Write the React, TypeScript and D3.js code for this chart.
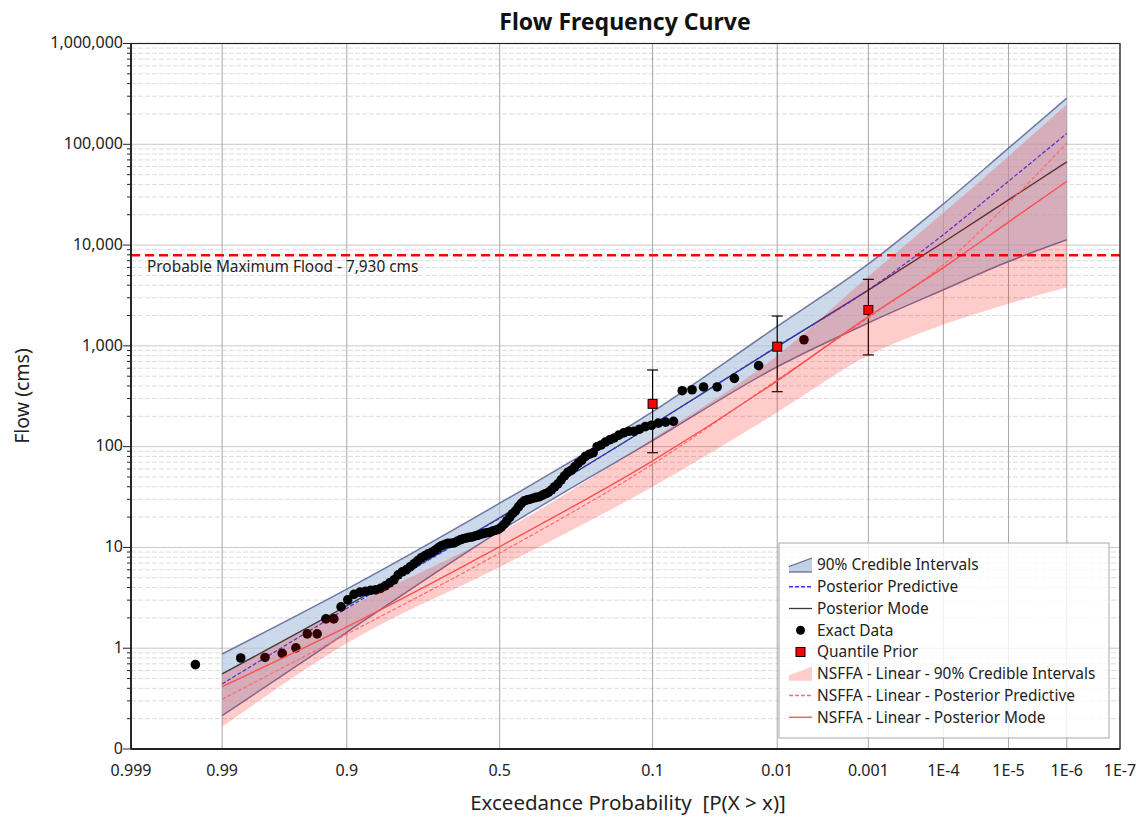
import { useEffect, useRef } from "react";
import * as d3 from "d3";

const WIDTH = 1136;
const HEIGHT = 820;
const PLOT = { left: 131, right: 1120, top: 43.5, bottom: 749 };
const FONT = "'Segoe UI', 'Noto Sans', sans-serif";

const X_TICKS = [0.999, 0.99, 0.9, 0.5, 0.1, 0.01, 0.001, 1e-4, 1e-5, 1e-6, 1e-7];
const X_TICK_LABELS = ["0.999", "0.99", "0.9", "0.5", "0.1", "0.01", "0.001", "1E-4", "1E-5", "1E-6", "1E-7"];
const Y_TICKS = [0.1, 1, 10, 100, 1000, 10000, 100000, 1000000];

// curve probabilities (exceedance)
const PROBS = [0.99, 0.9, 0.5, 0.1, 0.01, 0.001, 1e-4, 1e-5, 1e-6];
const CI_LOWER = [0.214, 1.44, 14.5, 114.5, 620, 1690, 3600, 6860, 11300];
const CI_UPPER = [0.877, 3.86, 27.5, 222, 1560, 6500, 25600, 91600, 287000];
const POST_PRED = [0.442, 2.49, 19.5, 165, 990, 3600, 12700, 43000, 128000];
const POST_MODE = [0.556, 2.63, 19.7, 165, 982, 3570, 10660, 28100, 67000];
const NS_LOWER = [0.166, 1.12, 6.4, 40, 219, 800, 1625, 2620, 3790];
const NS_UPPER = [0.55, 2.5, 14, 120, 800, 4900, 20900, 76200, 248000];
const NS_PRED = [0.312, 1.38, 8.8, 67, 460, 1900, 6400, 26000, 103000];
const NS_MODE = [0.416, 1.63, 10.2, 72.4, 450, 1950, 5980, 16900, 43000];

// observed annual peaks, ascending
const EXACT_DATA = [
  0.687, 0.8, 0.81, 0.888, 1.007, 1.387, 1.387, 1.954, 1.954, 2.57,
  3.02, 3.42, 3.6, 3.66, 3.75, 3.79, 3.92, 4.15, 4.45, 4.77,
  5.35, 5.73, 6.0, 6.41, 6.87, 7.36, 7.88, 8.26, 8.64, 8.94,
  9.36, 9.91, 10.4, 10.7, 11.0, 11.0, 11.1, 11.5, 11.9, 12.2,
  12.4, 12.6, 12.7, 13.0, 13.2, 13.5, 13.8, 14.0, 14.1, 14.5,
  14.8, 15.1, 15.8, 16.9, 18.4, 19.9, 21.6, 23.1, 25.3, 27.4,
  29.0, 29.7, 30.1, 30.8, 31.4, 31.8, 32.9, 34.1, 35.2, 37.3,
  40.0, 42.8, 46.9, 51.4, 55.7, 58.3, 63.1, 68.4, 73.3, 80.3,
  84.1, 87.0, 99.8, 104, 111, 117, 122, 130, 137, 142,
  142, 149, 158, 163, 171, 175, 178, 359, 367, 391,
  391, 476, 636, 1150,
];

// quantile priors
const QP_PROBS = [0.1, 0.01, 0.001];
const QP_VALUES = [266, 982, 2270];
const QP_LOWER = [87, 351, 813];
const QP_UPPER = [576, 1977, 4570];

const PMF = 7930;

const LEGEND_LABELS = [
  "90% Credible Intervals",
  "Posterior Predictive",
  "Posterior Mode",
  "Exact Data",
  "Quantile Prior",
  "NSFFA - Linear - 90% Credible Intervals",
  "NSFFA - Linear - Posterior Predictive",
  "NSFFA - Linear - Posterior Mode",
];

const BAND_FILL = "rgb(176,196,222)";
const BAND_LINE = "#5a6494";
const PRED_BLUE = "#3333ff";
const MODE_DARK = "#3c3c3c";
const PINK_FILL = "rgba(255,0,0,0.2)";
const RED_DASH = "#ff6a6a";
const RED_LINE = "#ff4f4f";

// Acklam inverse normal
function invNorm(p: number) {
  const a = [-3.969683028665376e1, 2.209460984245205e2, -2.759285104469687e2, 1.38357751867269e2, -3.066479806614716e1, 2.506628277459239];
  const b = [-5.447609879822406e1, 1.615858368580409e2, -1.556989798598866e2, 6.680131188771972e1, -1.328068155288572e1];
  const c = [-7.784894002430293e-3, -3.223964580411365e-1, -2.400758277161838, -2.549732539343734, 4.374664141464968, 2.938163982698783];
  const d = [7.784695709041462e-3, 3.224671290700398e-1, 2.445134137142996, 3.754408661907416];
  const plow = 0.02425;
  if (p < plow) {
    const q = Math.sqrt(-2 * Math.log(p));
    return (((((c[0] * q + c[1]) * q + c[2]) * q + c[3]) * q + c[4]) * q + c[5]) / ((((d[0] * q + d[1]) * q + d[2]) * q + d[3]) * q + 1);
  }
  if (p <= 1 - plow) {
    const q = p - 0.5;
    const r = q * q;
    return ((((((a[0] * r + a[1]) * r + a[2]) * r + a[3]) * r + a[4]) * r + a[5]) * q) / (((((b[0] * r + b[1]) * r + b[2]) * r + b[3]) * r + b[4]) * r + 1);
  }
  const q = Math.sqrt(-2 * Math.log(1 - p));
  return -(((((c[0] * q + c[1]) * q + c[2]) * q + c[3]) * q + c[4]) * q + c[5]) / ((((d[0] * q + d[1]) * q + d[2]) * q + d[3]) * q + 1);
}
// exceedance probability -> standard normal variate
const zOf = (p: number) => -invNorm(p);

export default function App() {
  const svgRef = useRef<SVGSVGElement>(null);

  useEffect(() => {
    const svg = d3.select(svgRef.current);
    svg.selectAll("*").remove();

    const x = d3.scaleLinear().domain([zOf(0.999), zOf(1e-7)]).range([PLOT.left, PLOT.right]);
    const y = d3.scaleLog().domain([0.1, 1e6]).range([PLOT.bottom, PLOT.top]);
    const xp = (p: number) => x(zOf(p));

    svg.append("rect").attr("width", WIDTH).attr("height", HEIGHT).attr("fill", "#ffffff");

    const grid = svg.append("g");
    // minor horizontal grid
    const minor: number[] = [];
    Y_TICKS.slice(0, -1).forEach((t) => {
      for (let m = 2; m <= 9; m++) minor.push(t * m);
    });
    minor.forEach((v) => {
      grid.append("line")
        .attr("x1", PLOT.left).attr("x2", PLOT.right)
        .attr("y1", y(v)).attr("y2", y(v))
        .attr("stroke", "#dcdcdc").attr("stroke-dasharray", "5,2");
    });
    Y_TICKS.forEach((v) => {
      grid.append("line")
        .attr("x1", PLOT.left).attr("x2", PLOT.right)
        .attr("y1", y(v)).attr("y2", y(v))
        .attr("stroke", "#c8c8c8");
    });
    X_TICKS.forEach((p) => {
      grid.append("line")
        .attr("x1", xp(p)).attr("x2", xp(p))
        .attr("y1", PLOT.top).attr("y2", PLOT.bottom)
        .attr("stroke", "#a8a8a8");
    });

    const pts = (vals: number[]) => PROBS.map((p, i) => ({ p, v: vals[i] }));
    const line = d3.line<{ p: number; v: number }>()
      .x((d) => xp(d.p)).y((d) => y(d.v)).curve(d3.curveMonotoneX);
    const band = d3.area<number>()
      .x((_, i) => xp(PROBS[i]))
      .curve(d3.curveMonotoneX);

    const plot = svg.append("g");

    // 90% credible interval band
    plot.append("path")
      .attr("d", band.y0((_, i) => y(CI_LOWER[i])).y1((_, i) => y(CI_UPPER[i]))(PROBS))
      .attr("fill", BAND_FILL).attr("fill-opacity", 0.65);
    [CI_LOWER, CI_UPPER].forEach((vals) => {
      plot.append("path").attr("d", line(pts(vals)))
        .attr("fill", "none").attr("stroke", BAND_LINE).attr("stroke-width", 1.5).attr("stroke-opacity", 0.85);
    });
    plot.append("path").attr("d", line(pts(POST_MODE)))
      .attr("fill", "none").attr("stroke", MODE_DARK).attr("stroke-width", 1.4);
    plot.append("path").attr("d", line(pts(POST_PRED)))
      .attr("fill", "none").attr("stroke", PRED_BLUE).attr("stroke-width", 1.2).attr("stroke-dasharray", "4,2");

    // exact data, Gringorten plotting positions
    const n = EXACT_DATA.length;
    EXACT_DATA.forEach((v, k) => {
      const rank = n - k;
      const p = (rank - 0.44) / (n + 0.12);
      plot.append("circle").attr("cx", xp(p)).attr("cy", y(v)).attr("r", 4.8).attr("fill", "#000000");
    });

    // quantile priors
    QP_PROBS.forEach((p, i) => {
      const cx = xp(p);
      const g = plot.append("g").attr("stroke", "#000000").attr("stroke-width", 1.2);
      g.append("line").attr("x1", cx).attr("x2", cx).attr("y1", y(QP_LOWER[i])).attr("y2", y(QP_UPPER[i]));
      [QP_LOWER[i], QP_UPPER[i]].forEach((v) => {
        g.append("line").attr("x1", cx - 5.5).attr("x2", cx + 5.5).attr("y1", y(v)).attr("y2", y(v));
      });
      plot.append("rect")
        .attr("x", cx - 4.5).attr("y", y(QP_VALUES[i]) - 4.5)
        .attr("width", 9).attr("height", 9)
        .attr("fill", "#ff0000").attr("stroke", "#000000").attr("stroke-width", 1);
    });

    // NSFFA linear
    plot.append("path")
      .attr("d", band.y0((_, i) => y(NS_LOWER[i])).y1((_, i) => y(NS_UPPER[i]))(PROBS))
      .attr("fill", PINK_FILL);
    plot.append("path").attr("d", line(pts(NS_PRED)))
      .attr("fill", "none").attr("stroke", RED_DASH).attr("stroke-width", 1.2).attr("stroke-dasharray", "4,2");
    plot.append("path").attr("d", line(pts(NS_MODE)))
      .attr("fill", "none").attr("stroke", RED_LINE).attr("stroke-width", 1.4);

    // probable maximum flood
    svg.append("line")
      .attr("x1", PLOT.left).attr("x2", PLOT.right)
      .attr("y1", y(PMF)).attr("y2", y(PMF))
      .attr("stroke", "#ff0000").attr("stroke-width", 2.5).attr("stroke-dasharray", "9,5");
    svg.append("text")
      .attr("x", 147).attr("y", y(PMF) + 17)
      .attr("font-family", FONT).attr("font-size", 15.4).attr("fill", "#222222")
      .text(`Probable Maximum Flood - ${d3.format(",")(PMF)} cms`);

    // frame and axes
    svg.append("rect")
      .attr("x", PLOT.left).attr("y", PLOT.top)
      .attr("width", PLOT.right - PLOT.left).attr("height", PLOT.bottom - PLOT.top)
      .attr("fill", "none").attr("stroke", "#222222").attr("stroke-width", 1.2);
    svg.append("line")
      .attr("x1", PLOT.left).attr("x2", PLOT.left).attr("y1", PLOT.top).attr("y2", PLOT.bottom)
      .attr("stroke", "#222222").attr("stroke-width", 1.8);
    svg.append("line")
      .attr("x1", PLOT.left).attr("x2", PLOT.right).attr("y1", PLOT.bottom).attr("y2", PLOT.bottom)
      .attr("stroke", "#222222").attr("stroke-width", 1.8);

    minor.forEach((v) => {
      svg.append("line").attr("x1", PLOT.left - 4).attr("x2", PLOT.left)
        .attr("y1", y(v)).attr("y2", y(v)).attr("stroke", "#222222");
    });
    const fmt = d3.format(",.0f");
    Y_TICKS.forEach((v) => {
      svg.append("line").attr("x1", PLOT.left - 8).attr("x2", PLOT.left)
        .attr("y1", y(v)).attr("y2", y(v)).attr("stroke", "#222222");
      svg.append("text")
        .attr("x", 123).attr("y", y(v)).attr("dy", "0.3em")
        .attr("text-anchor", "end")
        .attr("font-family", FONT).attr("font-size", 16).attr("fill", "#222222")
        .text(fmt(v));
    });
    X_TICKS.forEach((p, i) => {
      svg.append("text")
        .attr("x", xp(p)).attr("y", 776)
        .attr("text-anchor", "middle")
        .attr("font-family", FONT).attr("font-size", 16).attr("fill", "#222222")
        .text(X_TICK_LABELS[i]);
    });

    svg.append("text")
      .attr("x", 625).attr("y", 30)
      .attr("text-anchor", "middle")
      .attr("font-family", FONT).attr("font-size", 23).attr("font-weight", 700).attr("fill", "#111111")
      .text("Flow Frequency Curve");
    svg.append("text")
      .attr("transform", "translate(29,396) rotate(-90)")
      .attr("text-anchor", "middle")
      .attr("font-family", FONT).attr("font-size", 19.5).attr("fill", "#222222")
      .text("Flow (cms)");
    svg.append("text")
      .attr("x", 628).attr("y", 810)
      .attr("text-anchor", "middle")
      .attr("font-family", FONT).attr("font-size", 20.5).attr("fill", "#222222")
      .style("white-space", "pre")
      .text("Exceedance Probability  [P(X > x)]");

    // legend
    const lg = svg.append("g");
    lg.append("rect")
      .attr("x", 779).attr("y", 543).attr("width", 330).attr("height", 195)
      .attr("fill", "#ffffff").attr("fill-opacity", 0.8)
      .attr("stroke", "#a8a8a8");
    LEGEND_LABELS.forEach((label, i) => {
      const cy = 565 + i * 21.75;
      const x0 = 789, x1 = 812, xm = 800.5;
      if (i === 0 || i === 5) {
        const poly = [[x0, cy + 1.5], [x1, cy - 7], [x1, cy + 7], [x0, cy + 7]];
        lg.append("polygon").attr("points", poly.map((q) => q.join(",")).join(" "))
          .attr("fill", i === 0 ? BAND_FILL : "rgb(255,204,204)")
          .attr("fill-opacity", i === 0 ? 0.8 : 1);
        if (i === 0) {
          lg.append("line").attr("x1", x0).attr("y1", cy + 1.5).attr("x2", x1).attr("y2", cy - 7)
            .attr("stroke", BAND_LINE).attr("stroke-width", 1.2);
          lg.append("line").attr("x1", x0).attr("y1", cy + 7).attr("x2", x1).attr("y2", cy + 7)
            .attr("stroke", BAND_LINE).attr("stroke-width", 1.2);
        }
      } else if (i === 3) {
        lg.append("circle").attr("cx", xm).attr("cy", cy).attr("r", 4.5).attr("fill", "#000000");
      } else if (i === 4) {
        lg.append("rect").attr("x", xm - 4.5).attr("y", cy - 4.5).attr("width", 9).attr("height", 9)
          .attr("fill", "#ff0000").attr("stroke", "#000000");
      } else {
        const stroke = i === 1 ? PRED_BLUE : i === 2 ? MODE_DARK : i === 6 ? RED_DASH : RED_LINE;
        lg.append("line").attr("x1", x0).attr("x2", x1).attr("y1", cy).attr("y2", cy)
          .attr("stroke", stroke).attr("stroke-width", 1.3)
          .attr("stroke-dasharray", i === 1 || i === 6 ? "4,2" : null);
      }
      lg.append("text")
        .attr("x", 817).attr("y", cy).attr("dy", "0.35em")
        .attr("font-family", FONT).attr("font-size", 15.4).attr("fill", "#222222")
        .text(label);
    });
  }, []);

  return (
    <svg
      ref={svgRef}
      width={WIDTH}
      height={HEIGHT}
      style={{ position: "absolute", left: 0, top: 0, display: "block" }}
    />
  );
}
